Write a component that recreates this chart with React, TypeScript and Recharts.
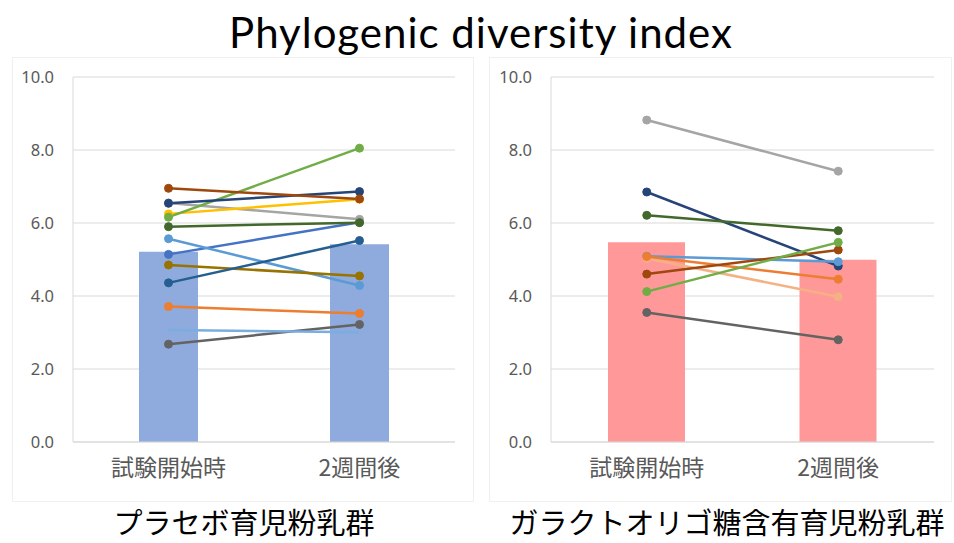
import { ComposedChart, Bar, Line, XAxis, YAxis, CartesianGrid } from "recharts";

const phases = ["試験開始時", "2週間後"];
const yTicks = [0, 2, 4, 6, 8, 10];

// プラセボ群 (13 subjects)
const placeboMean = [5.21, 5.42];
const placeboStart = [5.14, 3.71, 6.55, 6.25, 5.57, 6.16, 6.54, 6.95, 2.68, 4.85, 4.36, 5.9, 3.07];
const placeboWeek2 = [6.02, 3.52, 6.1, 6.65, 4.29, 8.05, 6.86, 6.66, 3.22, 4.55, 5.52, 6.01, 3.01];
const placeboColors = ["#4472c4", "#ed7d31", "#a5a5a5", "#ffc000", "#5b9bd5", "#70ad47", "#264478", "#9e480e", "#636363", "#997300", "#255e91", "#43682b", "#7aaee0"];

// GOS群 (9 subjects)
const gosMean = [5.47, 4.99];
const gosStart = [8.82, 6.85, 6.21, 5.09, 5.03, 5.08, 4.6, 4.12, 3.55];
const gosWeek2 = [7.42, 4.82, 5.79, 4.94, 3.98, 4.46, 5.26, 5.47, 2.8];
const gosColors = ["#a5a5a5", "#264478", "#43682b", "#5b9bd5", "#f4b183", "#ed7d31", "#9e480e", "#70ad47", "#636363"];

const GRID = "#d9d9d9";
const TICK = "#595959";

function buildRows(mean: number[], start: number[], week2: number[]) {
  return phases.map((phase, i) => {
    const row: any = { phase, mean: mean[i] };
    start.forEach((v, k) => {
      row[`s${k}`] = i === 0 ? v : week2[k];
    });
    return row;
  });
}

function Panel({ rows, colors, barColor, barSize, yWidth, width, noDot = -1 }: any) {
  return (
    <ComposedChart width={width} height={440} data={rows} margin={{ top: 17, right: 16, bottom: 18, left: 0 }}>
      <CartesianGrid vertical={false} stroke={GRID} />
      <XAxis
        dataKey="phase"
        axisLine={{ stroke: GRID }}
        tickLine={false}
        tickMargin={12}
        height={40}
        tick={{ fill: TICK, fontSize: 23, fontFamily: "'Noto Sans CJK JP', sans-serif" }}
      />
      <YAxis
        type="number"
        domain={[0, 10]}
        ticks={yTicks}
        tickFormatter={(v) => v.toFixed(1)}
        axisLine={{ stroke: GRID }}
        tickLine={false}
        tickMargin={13}
        width={yWidth}
        tick={{ fill: TICK, fontSize: 16.5, fontFamily: "'Noto Sans', sans-serif" }}
      />
      <YAxis yAxisId="frame" orientation="right" domain={[0, 10]} tick={false} tickLine={false} width={0} axisLine={{ stroke: GRID }} />
      <Bar dataKey="mean" fill={barColor} barSize={barSize} isAnimationActive={false} />
      {colors.map((c: string, k: number) => (
        <Line
          key={k}
          dataKey={`s${k}`}
          stroke={c}
          strokeWidth={2.5}
          dot={k === noDot ? false : { r: 4, fill: c, stroke: c, strokeWidth: 1 }}
          isAnimationActive={false}
        />
      ))}
    </ComposedChart>
  );
}

export default function App() {
  const placeboRows = buildRows(placeboMean, placeboStart, placeboWeek2);
  const gosRows = buildRows(gosMean, gosStart, gosWeek2);
  const jp = "'Noto Sans CJK JP', sans-serif";

  return (
    <div style={{ position: "fixed", left: 0, top: 0, width: 954, height: 543, background: "#fff", overflow: "hidden" }}>
      <div style={{ position: "absolute", left: 0, top: 7, width: 962, textAlign: "center", fontFamily: "Lato, sans-serif", fontSize: 42, letterSpacing: 1, color: "#000", lineHeight: "50px" }}>
        Phylogenic diversity index
      </div>

      <div style={{ position: "absolute", left: 12, top: 57, width: 460, height: 443, border: "1px solid #f0f0f0" }} />
      <div style={{ position: "absolute", left: 489, top: 57, width: 461, height: 443, border: "1px solid #f0f0f0" }} />

      <div style={{ position: "absolute", left: 15, top: 60 }}>
        <Panel rows={placeboRows} colors={placeboColors} barColor="#8faadc" barSize={59} yWidth={58} width={456} noDot={12} />
      </div>
      <div style={{ position: "absolute", left: 487, top: 60 }}>
        <Panel rows={gosRows} colors={gosColors} barColor="#ff9999" barSize={77} yWidth={64} width={463} />
      </div>

      <div style={{ position: "absolute", left: 44, width: 400, top: 503, textAlign: "center", fontFamily: jp, fontSize: 29, color: "#000", lineHeight: "36px" }}>
        プラセボ育児粉乳群
      </div>
      <div style={{ position: "absolute", left: 477, width: 500, top: 503, textAlign: "center", fontFamily: jp, fontSize: 29, color: "#000", lineHeight: "36px" }}>
        ガラクトオリゴ糖含有育児粉乳群
      </div>
    </div>
  );
}
